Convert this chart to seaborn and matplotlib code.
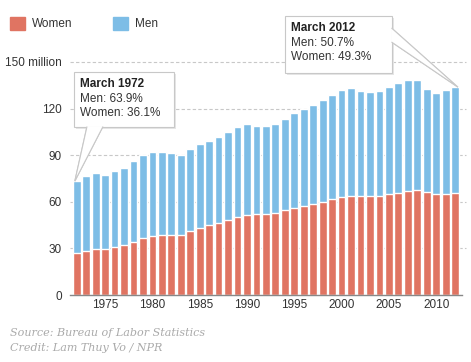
import matplotlib
matplotlib.use("Agg")
import matplotlib.pyplot as plt
import seaborn as sns
import pandas as pd
import numpy as np
from matplotlib.patches import Rectangle, Polygon

years = list(range(1972, 2013))
total = [73.3, 76.5, 78.6, 77.1, 79.6, 81.6, 86.0, 90.1, 91.8, 91.8,
         91.1, 90.1, 93.7, 97.5, 99.4, 102.0, 105.1, 108.3, 110.2, 109.0,
         109.0, 110.2, 113.2, 117.2, 119.8, 122.3, 125.5, 128.7, 131.9, 133.2,
         131.3, 130.6, 131.3, 133.8, 136.4, 138.3, 138.3, 132.5, 130.0, 131.9,
         133.8]
women = [27.0, 28.2, 29.5, 29.5, 30.8, 32.5, 34.4, 36.5, 38.2, 38.9,
         38.9, 38.9, 41.4, 43.3, 45.2, 46.5, 48.4, 50.3, 51.6, 52.0,
         52.3, 52.9, 54.6, 56.3, 57.3, 58.6, 59.9, 62.0, 63.1, 63.7,
         63.7, 63.7, 63.7, 65.0, 65.6, 66.9, 67.5, 66.3, 65.0, 65.0,
         65.6]
y_ticks = [0, 30, 60, 90, 120, 150]
y_labels = ["0", "30", "60", "90", "120", "150 million"]
x_label_years = [1975, 1980, 1985, 1990, 1995, 2000, 2005, 2010]

df = pd.DataFrame({"year": years, "total": total, "women": women})

WOMEN_C = "#E07462"
MEN_C = "#7DBDE6"
FONT = ["Liberation Sans Narrow", "Liberation Sans", "DejaVu Sans"]

sns.set_theme(style="white")
plt.rcParams["font.family"] = FONT

W, H = 471, 362
fig = plt.figure(figsize=(W / 100, H / 100), dpi=100)

def px(x, y):
    return (x / W, 1 - y / H)

ax = fig.add_axes([70 / W, 1 - 295 / H, 392 / W, (295 - 62) / H])

sns.barplot(data=df, x="year", y="total", color=MEN_C, width=0.82,
            saturation=1, ax=ax, zorder=2)
sns.barplot(data=df, x="year", y="women", color=WOMEN_C, width=0.82,
            saturation=1, ax=ax, zorder=3)

ax.set_xlim(-0.71, 40.73)
ax.set_ylim(0, 150)
ax.set_xlabel("")
ax.set_ylabel("")

# y axis
ax.set_yticks(y_ticks)
ax.set_yticklabels(y_labels)
ax.tick_params(axis="y", length=0, pad=6, labelsize=8.5, labelcolor="#333333")
for t in y_ticks[1:]:
    ax.axhline(t, color="#c8c8c8", lw=0.8, ls=(0, (3, 2)), zorder=1, clip_on=False,
               xmax=1.01)

# x axis
pos = [years.index(y) for y in x_label_years]
ax.set_xticks(pos)
ax.set_xticklabels([str(y) for y in x_label_years])
ax.tick_params(axis="x", length=0, pad=3, labelsize=8.5, labelcolor="#333333")
ax.set_xticks(np.arange(-0.5, len(years) + 0.5, 1.0), minor=True)
ax.tick_params(axis="x", which="minor", direction="in", length=4, width=0.8,
               color="#888888")
for s in ["top", "right", "left"]:
    ax.spines[s].set_visible(False)
ax.spines["bottom"].set_color("#888888")
ax.spines["bottom"].set_linewidth(1.0)
ax.spines["bottom"].set_zorder(5)

# legend
fig.patches.append(Rectangle(px(10, 30), 15 / W, 13 / H, transform=fig.transFigure,
                             color=WOMEN_C, figure=fig))
fig.text(*px(32, 24), "Women", fontsize=8.5, color="#333333", va="center")
fig.patches.append(Rectangle(px(113, 30), 15 / W, 13 / H, transform=fig.transFigure,
                             color=MEN_C, figure=fig))
fig.text(*px(135, 24), "Men", fontsize=8.5, color="#333333", va="center")

# callouts
fig.canvas.draw()
def data_to_fig(xi, yv):
    d = ax.transData.transform((xi, yv))
    return fig.transFigure.inverted().transform(d)

def callout(x0, y0, x1, y1, base, tip, title, lines):
    # shadow
    fig.patches.append(Rectangle(px(x0 + 1.5, y1 + 1.5), (x1 - x0) / W, (y1 - y0) / H,
                                 transform=fig.transFigure, fc="#e6e6e6", ec="none",
                                 zorder=10, figure=fig))
    poly = Polygon([px(*base[0]), tuple(tip), px(*base[1])], closed=False,
                   transform=fig.transFigure, fc="white", ec="#c8c8c8", lw=0.8,
                   zorder=11, figure=fig)
    fig.patches.append(poly)
    fig.patches.append(Rectangle(px(x0, y1), (x1 - x0) / W, (y1 - y0) / H,
                                 transform=fig.transFigure, fc="white", ec="#c8c8c8",
                                 lw=0.8, zorder=12, figure=fig))
    # cover the box edge where wedge attaches
    fig.patches.append(Polygon([px(*base[0]), tuple(tip), px(*base[1])], closed=True,
                               transform=fig.transFigure, fc="white", ec="none",
                               zorder=13, figure=fig))
    fig.patches.append(Polygon([px(*base[0]), tuple(tip), px(*base[1])], closed=False,
                               transform=fig.transFigure, fc="none", ec="#c8c8c8",
                               lw=0.8, zorder=14, figure=fig))
    tx = x0 + 6
    fig.text(*px(tx, y0 + 12), title, fontsize=8.5, fontweight="bold",
             color="#222222", va="center", zorder=15)
    for k, ln in enumerate(lines):
        fig.text(*px(tx, y0 + 27 + 14.5 * k), ln, fontsize=8.5, color="#333333",
                 va="center", zorder=15)

tip1 = data_to_fig(0 - 0.2, total[0])
callout(74, 72, 174, 127, [(87, 126.5), (103, 126.5)], tip1, "March 1972",
        ["Men: 63.9%", "Women: 36.1%"])
tip2 = data_to_fig(40 + 0.3, total[-1])
callout(285, 16, 392, 73, [(391.5, 28), (391.5, 42)], tip2, "March 2012",
        ["Men: 50.7%", "Women: 49.3%"])

# source
fig.text(*px(10, 333), "Source: Bureau of Labor Statistics", fontsize=8,
         color="#aaaaaa", style="italic", family="DejaVu Serif", va="center")
fig.text(*px(10, 348), "Credit: Lam Thuy Vo / NPR", fontsize=8,
         color="#aaaaaa", style="italic", family="DejaVu Serif", va="center")

fig.savefig("out.png", dpi=100)
